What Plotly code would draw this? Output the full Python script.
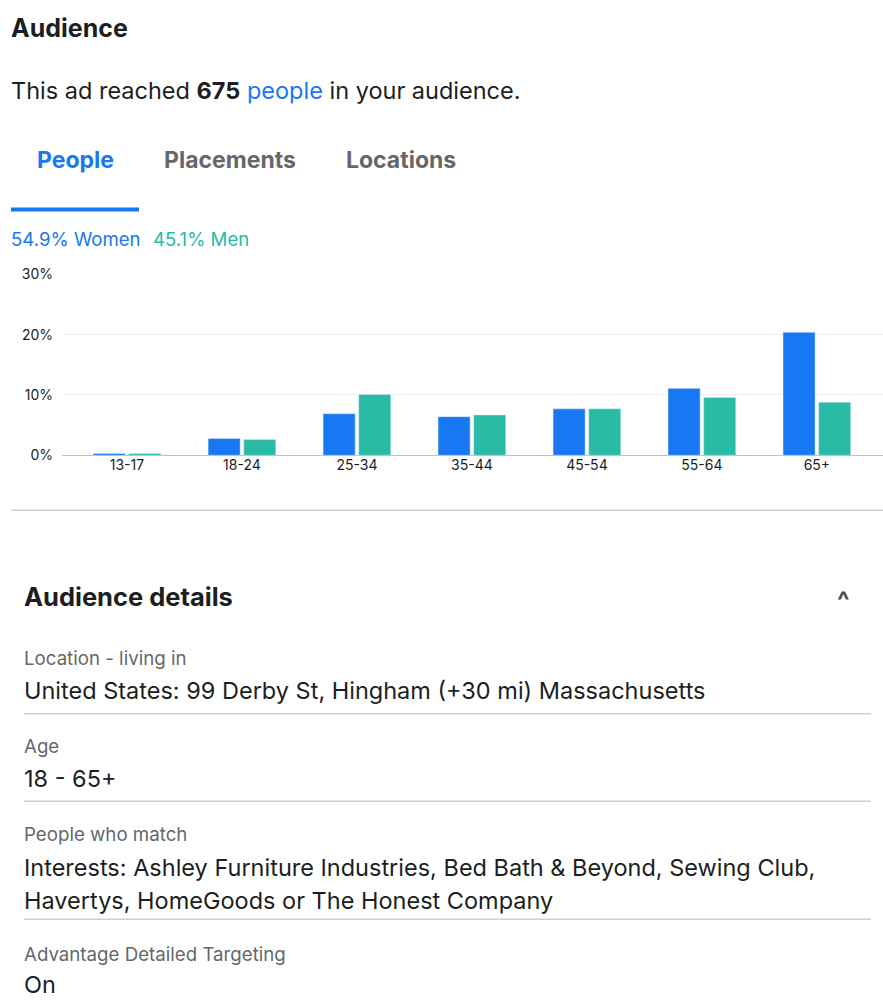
import plotly.graph_objects as go

ages = ["13-17", "18-24", "25-34", "35-44", "45-54", "55-64", "65+"]
women = [0.3, 2.8, 6.9, 6.4, 7.7, 11.1, 20.4]
men = [0.3, 2.6, 10.1, 6.7, 7.7, 9.6, 8.8]

BLUE = "#1877f2"
TEAL = "#2abba7"
F = "Inter, Roboto, sans-serif"
W, H = 883, 1000

fig = go.Figure()
fig.add_trace(go.Bar(x=ages, y=women, name="Women", marker_color=BLUE))
fig.add_trace(go.Bar(x=ages, y=men, name="Men", marker_color=TEAL))

def px(x):
    return x / W

def py(y):
    return 1 - y / H

fig.update_layout(
    width=W, height=H, margin=dict(l=0, r=0, t=0, b=0),
    plot_bgcolor="white", paper_bgcolor="white", showlegend=False,
    barmode="group", bargap=0.38, bargroupgap=0.1,
    font=dict(family=F, color="#1c1e21"),
    xaxis=dict(domain=[px(62), 1], range=[-0.565, 6.575], showgrid=False,
               tickfont=dict(size=14, color="#1c1e21"), ticks="", fixedrange=True),
    yaxis=dict(domain=[py(454), py(270)], range=[0, 30], tickvals=[0, 10, 20, 30],
               ticktext=["0%", "10%", "20%", "30%"], gridcolor="#ebedf0",
               zeroline=True, zerolinecolor="#bec3c9", zerolinewidth=1,
               tickfont=dict(size=14, color="#1c1e21"), ticklabelstandoff=8),
)

def text(x, y, s, size=23.5, color="#1c1e21", anchor="left"):
    fig.add_annotation(x=px(x), y=py(y), xref="paper", yref="paper", text=s,
                       showarrow=False, xanchor=anchor, yanchor="middle",
                       font=dict(size=size, color=color, family=F))

text(9, 19, "<b>Audience</b>", 25)
text(9, 83, "This ad reached <b>675</b> <span style='color:#1877f2'>people</span> in your audience.", 23.5)
text(35, 154, "<b>People</b>", 23, BLUE)
text(162, 154, "<b>Placements</b>", 23, "#65676b")
text(344, 154, "<b>Locations</b>", 23, "#65676b")
text(9, 234, "54.9% Women", 18.6, BLUE)
text(151, 234, "45.1% Men", 18.6, TEAL)
text(22, 598, "<b>Audience details</b>", 25.5)
text(843, 602, "<b>^</b>", 26, "#444950", "center")
text(22, 661, "Location - living in", 18.7, "#65676b")
text(22, 693, "United States: 99 Derby St, Hingham (+30 mi) Massachusetts")
text(22, 750, "Age", 18.7, "#65676b")
text(22, 783, "18 - 65+")
text(22, 840, "People who match", 18.7, "#65676b")
text(22, 873, "Interests: Ashley Furniture Industries, Bed Bath &amp; Beyond, Sewing Club,")
text(22, 907, "Havertys, HomeGoods or The Honest Company")
text(22, 962, "Advantage Detailed Targeting", 18.7, "#65676b")
text(22, 992, "On")

fig.add_shape(type="line", xref="paper", yref="paper", x0=px(11), x1=px(139),
              y0=py(204), y1=py(204), line=dict(color=BLUE, width=4))
fig.add_shape(type="line", xref="paper", yref="paper", x0=px(11), x1=1,
              y0=py(510), y1=py(510), line=dict(color="#ccd0d5", width=1.5))
for yy in [717, 806, 926]:
    fig.add_shape(type="line", xref="paper", yref="paper", x0=px(24), x1=px(871),
                  y0=py(yy), y1=py(yy), line=dict(color="#ccd0d5", width=1.5))

fig.write_html("out.html", config={"displayModeBar": False},
               post_script="document.body.style.margin='0';document.body.style.overflow='hidden';")
